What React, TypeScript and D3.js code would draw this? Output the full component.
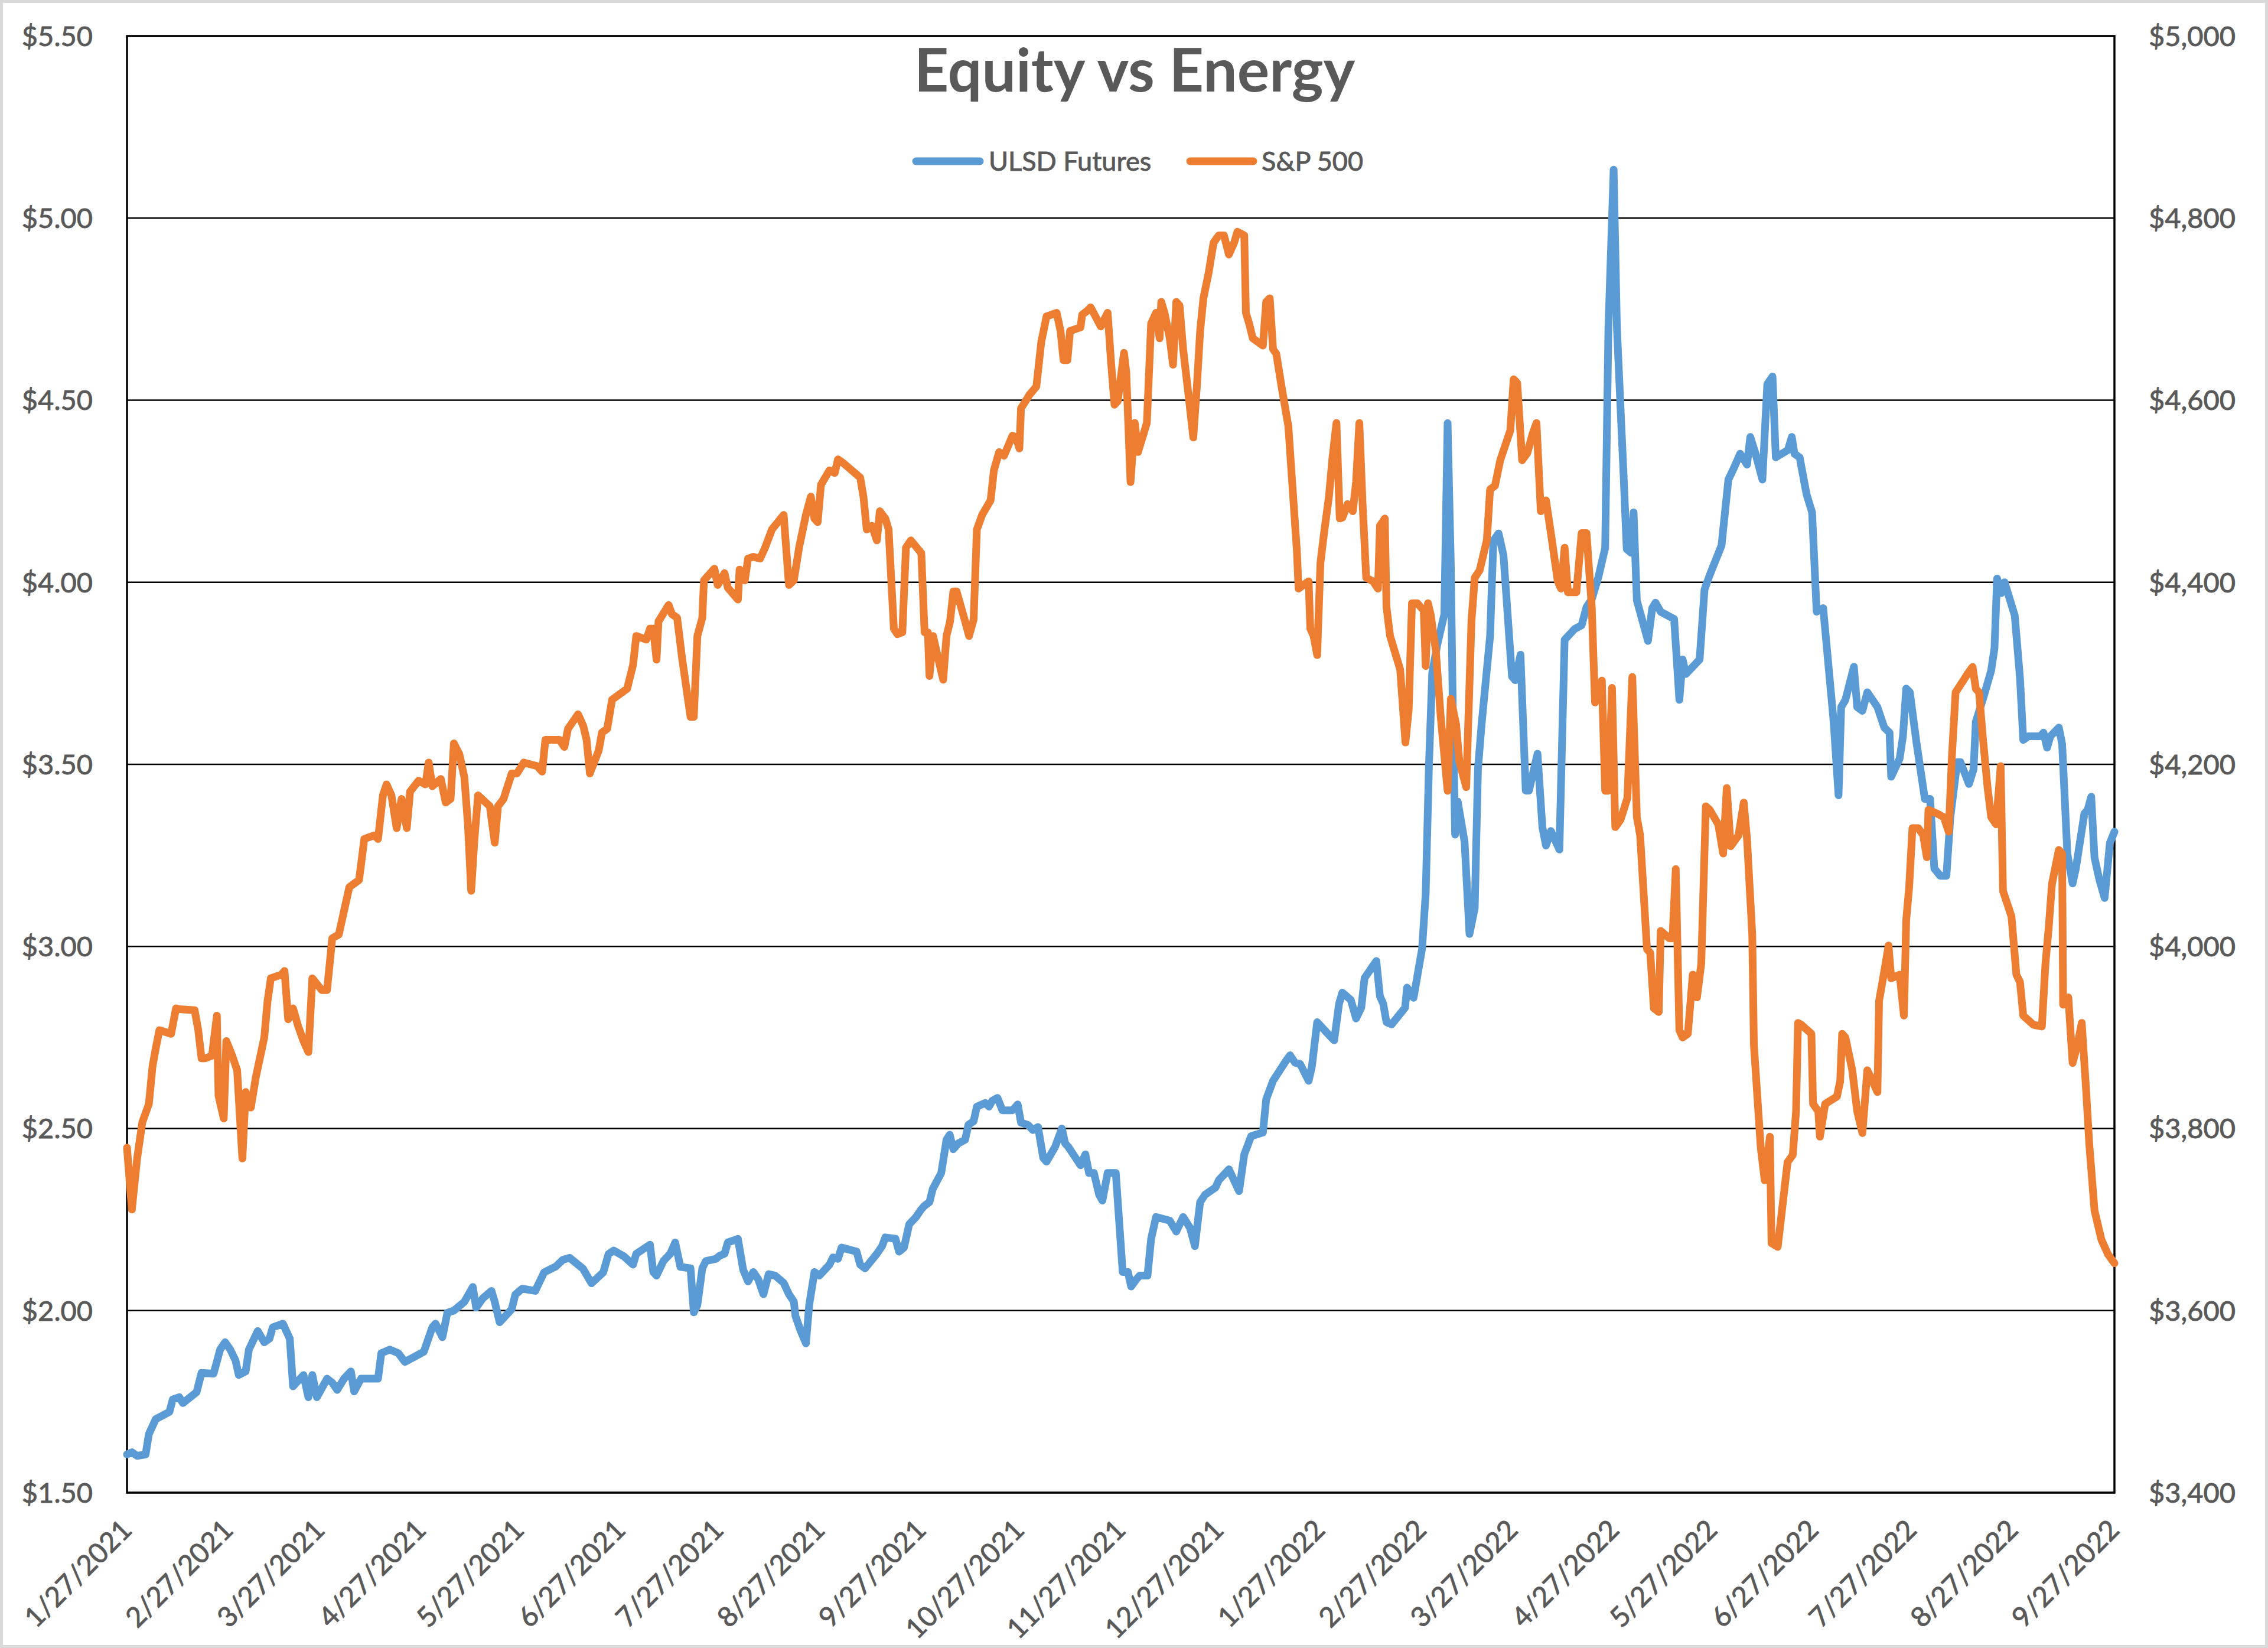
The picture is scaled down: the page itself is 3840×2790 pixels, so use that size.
import React from 'react';
import * as d3 from 'd3';

// ---------- DATA ----------
// x positions are days after 1/27/2021
const ulsdDays = [
  0, 1.5, 3.1, 5.7, 6.7, 8.8, 13, 14, 16, 17.1, 21.3, 22.8, 26.5, 28.5, 30, 31.6, 33.2, 34.2, 36.3, 37.3,
  40, 42, 43.6, 44.6, 47.7, 49.8, 50.8, 54, 55.5, 56.7, 58.1, 61.2, 62.8, 64.3, 66.4, 68.5, 69.5, 71.6, 76.8, 77.8,
  80.4, 83, 85, 90.8, 93.4, 94.4, 96.5, 98, 100, 103.2, 105.8, 106.8, 108.9, 111.5, 112.5, 114, 117.7, 118.8, 120.9, 124.9,
  127.6, 131.2, 133.3, 135.4, 139.5, 142.1, 145.7, 147.3, 148.9, 152, 154.8, 155.8, 160, 161, 162, 164.1, 166.2, 167.7, 169.3, 172.4,
  173.4, 174.5, 176, 177.1, 180.2, 181.2, 182.8, 183.8, 186.9, 188.5, 190, 191.6, 193.1, 194.7, 196.3, 198.3, 200.9, 202.5, 204, 204.5,
  206.1, 207.7, 208.7, 210.3, 211.8, 214.9, 216, 217.5, 218.6, 223.2, 224.3, 225.8, 229.4, 231, 232, 235.1, 236.2, 237.7, 239.3, 241.4,
  242.9, 244, 245.5, 246.5, 249.1, 250.7, 251.7, 252.8, 254.3, 256.4, 257.4, 259, 260, 262.6, 263.7, 264.7, 266.3, 267.8, 270.9, 272.5,
  273.5, 275.6, 277.1, 278.7, 280.3, 281.3, 283.9, 286, 287, 288, 291.7, 293.2, 294.3, 295.8, 297.4, 298.4, 300, 302.5, 304.6, 306.2,
  307.2, 308.8, 309.8, 312.2, 313.3, 314.8, 319, 321, 323.1, 325.2, 326.7, 328.3, 329.8, 333, 334, 337.1, 340.2, 341.8, 343.9, 347.5,
  348.5, 350.6, 354.2, 355.8, 357.3, 358.9, 361.5, 362.5, 364.1, 368.2, 369.3, 370.8, 371.8, 374.4, 376, 377.6, 378.6, 382.2, 383.3, 384.3,
  385.3, 386.9, 391, 391.6, 393.6, 396.2, 397.3, 398.3, 399.3, 400.9, 403, 404, 405, 405.6, 406.3, 407.1, 409.2, 410.7, 412.3, 413.3,
  414.4, 417, 418, 419.6, 421.1, 423.7, 424.7, 426.3, 427.9, 428.9, 431.5, 433, 434.1, 435.6, 438.2, 439.8, 442.9, 445, 446.5, 448.1,
  450.1, 452.2, 453.2, 454.8, 455.8, 457.8, 458.8, 460.1, 460.9, 461.9, 465.3, 466.6, 467.6, 469.2, 473.3, 474.9, 475.9, 476.9, 481.1, 482.6,
  484.2, 487.8, 489.9, 491.5, 493.5, 495.6, 496.6, 498.2, 500.3, 501.8, 503.4, 504.4, 508.1, 509.3, 510.1, 511.7, 513.8, 515.5, 516.9, 518.9,
  522.1, 523.6, 524.4, 525.7, 528.3, 529.3, 530.9, 532.4, 535.5, 537.6, 539.2, 539.7, 542.3, 543.3, 544.3, 545.4, 547.5, 550, 551.6, 552.9,
  554.7, 556.6, 557.8, 559.9, 560.9, 563.5, 564.9, 565.6, 567.7, 570.3, 571.3, 572.1, 573.4, 574.4, 577.5, 579.1, 580.1, 581.7, 585.3, 586.3,
  587.4, 588.4, 591, 592, 593.6, 595.2, 596.2, 598.8, 599.8, 600.9, 601.9, 603.4, 605, 606.6, 608,
];
const ulsdValues = [
  1.605, 1.611, 1.601, 1.605, 1.661, 1.702, 1.722, 1.756, 1.762, 1.746, 1.776, 1.829, 1.827, 1.893, 1.913, 1.893, 1.863, 1.823, 1.833, 1.893,
  1.944, 1.913, 1.923, 1.954, 1.964, 1.923, 1.792, 1.823, 1.762, 1.823, 1.762, 1.813, 1.802, 1.782, 1.813, 1.833, 1.778, 1.813, 1.813, 1.883,
  1.893, 1.883, 1.859, 1.887, 1.954, 1.964, 1.927, 1.994, 2.0, 2.024, 2.065, 2.008, 2.034, 2.054, 2.024, 1.968, 2.004, 2.044, 2.06, 2.054,
  2.105, 2.121, 2.139, 2.145, 2.115, 2.075, 2.105, 2.155, 2.165, 2.149, 2.126, 2.156, 2.181, 2.106, 2.096, 2.136, 2.156, 2.187, 2.12, 2.116,
  1.995, 2.015, 2.116, 2.136, 2.142, 2.15, 2.156, 2.187, 2.197, 2.112, 2.08, 2.106, 2.086, 2.045, 2.1, 2.096, 2.076, 2.045, 2.025, 1.985,
  1.944, 1.91, 2.015, 2.106, 2.096, 2.126, 2.146, 2.142, 2.173, 2.162, 2.126, 2.116, 2.156, 2.177, 2.201, 2.197, 2.162, 2.173, 2.237, 2.257,
  2.277, 2.288, 2.298, 2.334, 2.378, 2.469, 2.483, 2.443, 2.459, 2.469, 2.51, 2.52, 2.56, 2.57, 2.56, 2.576, 2.584, 2.55, 2.55, 2.566,
  2.516, 2.51, 2.496, 2.504, 2.419, 2.409, 2.449, 2.5, 2.459, 2.449, 2.399, 2.429, 2.378, 2.378, 2.318, 2.302, 2.378, 2.378, 2.106, 2.106,
  2.066, 2.086, 2.096, 2.096, 2.197, 2.257, 2.247, 2.217, 2.257, 2.227, 2.177, 2.298, 2.318, 2.338, 2.358, 2.388, 2.328, 2.429, 2.479, 2.489,
  2.58, 2.631, 2.681, 2.701, 2.681, 2.677, 2.631, 2.671, 2.792, 2.752, 2.742, 2.843, 2.873, 2.853, 2.802, 2.832, 2.913, 2.96, 2.863, 2.843,
  2.792, 2.786, 2.832, 2.887, 2.859, 2.994, 3.145, 3.498, 3.751, 3.831, 3.912, 4.437, 4.043, 3.65, 3.307, 3.398, 3.287, 3.034, 3.105, 3.488,
  3.61, 3.852, 4.114, 4.134, 4.074, 3.741, 3.731, 3.801, 3.428, 3.428, 3.529, 3.327, 3.277, 3.317, 3.266, 3.842, 3.872, 3.882, 3.932, 3.953,
  4.013, 4.094, 4.699, 5.133, 4.699, 4.302, 4.091, 4.081, 4.192, 3.95, 3.839, 3.929, 3.944, 3.919, 3.899, 3.677, 3.788, 3.748, 3.788, 3.98,
  4.02, 4.101, 4.282, 4.312, 4.353, 4.323, 4.399, 4.353, 4.282, 4.544, 4.565, 4.343, 4.363, 4.399, 4.353, 4.343, 4.242, 4.192, 3.919, 3.929,
  3.617, 3.415, 3.657, 3.677, 3.768, 3.657, 3.647, 3.698, 3.657, 3.601, 3.587, 3.466, 3.516, 3.577, 3.708, 3.698, 3.556, 3.405, 3.405, 3.214,
  3.194, 3.194, 3.355, 3.506, 3.506, 3.446, 3.486, 3.617, 3.677, 3.758, 3.819, 4.01, 3.97, 4.0, 3.909, 3.738, 3.567, 3.577, 3.577, 3.587,
  3.546, 3.577, 3.601, 3.556, 3.254, 3.173, 3.214, 3.365, 3.375, 3.411, 3.244, 3.183, 3.133, 3.284, 3.315,
];

const spxDays = [
  0, 1.5, 3.1, 4.7, 6.7, 7.8, 8.8, 9.9, 13.5, 15, 16, 20.7, 21.8, 22.8, 23.9, 26, 27.5, 28, 29.6, 30.4,
  32.2, 33.7, 35.3, 36.3, 37.9, 39.4, 42, 43, 44, 47.2, 48.2, 49.3, 50.8, 52.4, 54, 55.5, 56.7, 59.6, 61.2, 62.8,
  64.8, 68, 71, 72.6, 75.7, 76.8, 78.3, 79.4, 80.9, 82.5, 84, 85.6, 86.6, 89.2, 91.3, 92.3, 93.4, 96, 97.5, 99,
  100, 101.7, 103.2, 104.3, 105.3, 106.3, 107.4, 111, 112.5, 113.5, 115.2, 117.7, 119.3, 121.4, 125.5, 127, 128, 132.3, 133.8, 134.9,
  138, 139.6, 140.6, 141.6, 144.3, 145.3, 146.9, 148.4, 153, 154.8, 155.8, 158.9, 160, 161, 162, 162.6, 165.7, 166.7, 168.3, 169.8,
  172.4, 173.4, 174.5, 176, 176.5, 179.7, 180.7, 182.8, 183.8, 186.9, 187.4, 189, 190, 191.6, 193.7, 195.2, 197.3, 200.9, 202.5, 204,
  205.6, 207.7, 209.2, 210.3, 211.3, 212.3, 214.9, 216.5, 217.5, 219.1, 224.3, 225.3, 226.3, 227.9, 229.4, 230.3, 232, 233, 234.6, 235.7,
  237.2, 238.3, 239.8, 243, 244, 245, 245.5, 246.6, 248.1, 249.7, 250.7, 251.8, 252.8, 253.8, 256.4, 257.6, 259, 260, 261.6, 264.2,
  265.2, 266.8, 268.3, 270.9, 272, 273, 273.5, 276.1, 278.2, 279.7, 281.3, 284.4, 285.6, 286.5, 287.7, 288.5, 291.7, 292.2, 293.7, 294.8,
  297.9, 300, 301, 302.1, 303.1, 305, 305.7, 307, 308.3, 309.3, 312, 313.3, 314.8, 315.9, 316.4, 317.4, 319, 320, 321, 322,
  323.1, 324.7, 326.2, 327.3, 328.3, 329.3, 330.9, 332.4, 334, 335.6, 337.1, 338.7, 339.7, 341.8, 342.3, 343.3, 344.4, 347.5, 348.5, 349.6,
  350.6, 351.6, 353.2, 355.3, 356.3, 357.9, 358.4, 359.9, 361.5, 362, 363, 364.1, 365.1, 366.2, 367.7, 368.7, 370, 371, 371.8, 373.4,
  375, 376, 377, 378, 379.1, 381.2, 382.7, 383.3, 384.8, 385.3, 386.4, 389.5, 391.1, 392.1, 393.1, 394.7, 396.7, 397.3, 398, 398.8,
  400.4, 401.9, 404, 405, 406.6, 407.6, 409.7, 411.3, 412.3, 413.8, 416, 417, 418.5, 420.1, 421.6, 423.2, 424.2, 425.3, 426.8, 428.4,
  430, 431.2, 432.5, 434.1, 435.6, 437.7, 438.7, 439.8, 440.8, 443.4, 445, 446.5, 448.1, 449.1, 451.2, 452.2, 453.2, 454.3, 455.3, 456.9,
  459, 460.5, 461.9, 462.9, 465, 466, 467.1, 468.6, 469.2, 471.8, 472.8, 473.8, 474.9, 475.9, 477.5, 479, 480.3, 481.6, 483, 484.2,
  486.8, 488.3, 489.4, 490.6, 493, 494.6, 495.6, 497.2, 497.7, 499.8, 501, 502.6, 503.1, 505, 508, 509.6, 510.6, 511.2, 512.2, 515.3,
  515.8, 517.4, 517.9, 519.5, 523.1, 524.1, 524.7, 525.7, 527.8, 529.3, 530.9, 532.4, 533.5, 535.5, 536, 537.6, 538.9, 539.7, 542.3, 543.6,
  544.3, 545.2, 546.2, 548, 549.5, 550.6, 551.1, 553.7, 555.8, 557.3, 558.3, 559.4, 563, 564.6, 565.6, 566.6, 567.7, 569.2, 570.3, 571.8,
  573.2, 573.9, 576.5, 578, 579.1, 580.1, 583.2, 585.8, 586.9, 587.9, 588.9, 591, 592, 592.3, 593.9, 595.2, 596.7, 598, 599.3, 600.3,
  601.9, 604, 606, 608,
];
const spxValues = [
  3779, 3711, 3767, 3807, 3827, 3868, 3888, 3908, 3904, 3932, 3931, 3930, 3908, 3877, 3877, 3880, 3924, 3836, 3811, 3896,
  3880, 3864, 3767, 3840, 3823, 3856, 3900, 3940, 3965, 3969, 3973, 3920, 3932, 3912, 3896, 3884, 3965, 3952, 3952, 4009,
  4013, 4065, 4073, 4118, 4122, 4118, 4166, 4178, 4166, 4130, 4162, 4130, 4170, 4182, 4178, 4202, 4176, 4184, 4158, 4162,
  4223, 4211, 4186, 4134, 4061, 4118, 4166, 4154, 4114, 4154, 4162, 4190, 4190, 4202, 4198, 4192, 4227, 4227, 4219, 4239,
  4255, 4242, 4227, 4190, 4215, 4235, 4239, 4271, 4283, 4309, 4341, 4337, 4349, 4349, 4315, 4357, 4375, 4365, 4361, 4317,
  4252, 4252, 4341, 4361, 4402, 4415, 4397, 4410, 4394, 4381, 4414, 4402, 4426, 4428, 4426, 4438, 4458, 4474, 4397, 4402,
  4438, 4474, 4494, 4470, 4466, 4507, 4523, 4520, 4535, 4531, 4515, 4494, 4458, 4462, 4446, 4478, 4470, 4458, 4349, 4343,
  4345, 4438, 4446, 4432, 4345, 4345, 4297, 4341, 4317, 4293, 4341, 4357, 4390, 4390, 4357, 4341, 4359, 4458, 4474, 4490,
  4523, 4543, 4539, 4561, 4559, 4547, 4591, 4606, 4615, 4664, 4692, 4696, 4676, 4644, 4644, 4676, 4680, 4694, 4698, 4702,
  4681, 4696, 4644, 4595, 4599, 4652, 4631, 4510, 4575, 4543, 4575, 4684, 4696, 4668, 4708, 4696, 4668, 4639, 4708, 4704,
  4656, 4607, 4559, 4615, 4676, 4712, 4740, 4773, 4781, 4781, 4760, 4773, 4785, 4781, 4696, 4684, 4668, 4660, 4708, 4712,
  4656, 4651, 4615, 4571, 4518, 4434, 4393, 4397, 4401, 4349, 4341, 4320, 4421, 4454, 4494, 4534, 4575, 4470, 4471, 4486,
  4478, 4510, 4575, 4486, 4405, 4401, 4393, 4462, 4470, 4373, 4341, 4304, 4224, 4260, 4377, 4377, 4369, 4308, 4377, 4365,
  4325, 4252, 4171, 4272, 4244, 4203, 4175, 4357, 4405, 4413, 4446, 4502, 4506, 4534, 4550, 4567, 4623, 4619, 4534, 4542,
  4563, 4575, 4478, 4490, 4454, 4401, 4393, 4438, 4389, 4389, 4454, 4454, 4373, 4268, 4292, 4171, 4171, 4284, 4131, 4139,
  4163, 4296, 4142, 4122, 3997, 3993, 3932, 3928, 4017, 4009, 4009, 4085, 3908, 3900, 3904, 3969, 3944, 3981, 4154, 4150,
  4134, 4102, 4174, 4110, 4122, 4158, 4118, 4013, 3892, 3779, 3743, 3791, 3674, 3670, 3763, 3771, 3819, 3916, 3914, 3904,
  3827, 3819, 3791, 3827, 3835, 3852, 3904, 3900, 3864, 3819, 3795, 3864, 3856, 3840, 3940, 3973, 4001, 3965, 3969, 3924,
  4029, 4065, 4130, 4130, 4122, 4098, 4150, 4146, 4142, 4126, 4210, 4279, 4299, 4307, 4283, 4279, 4231, 4174, 4142, 4134,
  4198, 4061, 4033, 3969, 3961, 3924, 3914, 3912, 3981, 4021, 4069, 4106, 4102, 3936, 3944, 3872, 3892, 3916, 3844, 3783,
  3710, 3678, 3662, 3652,
];

const xTickLabels = [
  '1/27/2021', '2/27/2021', '3/27/2021', '4/27/2021', '5/27/2021', '6/27/2021', '7/27/2021', '8/27/2021',
  '9/27/2021', '10/27/2021', '11/27/2021', '12/27/2021', '1/27/2022', '2/27/2022', '3/27/2022', '4/27/2022',
  '5/27/2022', '6/27/2022', '7/27/2022', '8/27/2022', '9/27/2022',
];
const leftTicks = [1.5, 2.0, 2.5, 3.0, 3.5, 4.0, 4.5, 5.0, 5.5];
const rightTicks = [3400, 3600, 3800, 4000, 4200, 4400, 4600, 4800, 5000];
const seriesNames = ['ULSD Futures', 'S&P 500'];
const titleText = 'Equity vs Energy';

// ---------- LAYOUT ----------
const W = 3840;
const H = 2790;
const PL = 215, PR = 3580, PT = 61, PB = 2527;
const BLUE = '#5B9BD5';
const ORANGE = '#ED7D31';
const TEXT = '#595959';
const FONT = 'Lato, "Open Sans", sans-serif';

const START = Date.UTC(2021, 0, 27);
const dayToDate = (d: number) => new Date(START + d * 86400000);
const parseLabel = (s: string) => {
  const [m, d, y] = s.split('/').map(Number);
  return new Date(Date.UTC(y, m - 1, d));
};

export default function App() {
  const x = d3.scaleUtc().domain([parseLabel(xTickLabels[0]), parseLabel(xTickLabels[xTickLabels.length - 1])]).range([PL, PR]);
  const yL = d3.scaleLinear().domain([1.5, 5.5]).range([PB, PT]);
  const yR = d3.scaleLinear().domain([3400, 5000]).range([PB, PT]);
  const fmtL = d3.format('$.2f');
  const fmtR = d3.format('$,.0f');

  const ulsd = ulsdDays.map((d, i) => [d, ulsdValues[i]] as [number, number]);
  const spx = spxDays.map((d, i) => [d, spxValues[i]] as [number, number]);

  const lineL = d3.line<[number, number]>().x(p => x(dayToDate(p[0]))).y(p => yL(p[1]));
  const lineR = d3.line<[number, number]>().x(p => x(dayToDate(p[0]))).y(p => yR(p[1]));

  const labelStyle = { stroke: TEXT, strokeWidth: 0.9 } as React.CSSProperties;

  return (
    <svg width={W} height={H} style={{ position: 'absolute', left: 0, top: 0, background: '#fff' }} fontFamily={FONT}>
      <rect x={0} y={0} width={W} height={H} fill="#fff" />
      <rect x={2.5} y={2.5} width={W - 5} height={H - 5} fill="none" stroke="#d9d9d9" strokeWidth={5} />

      {/* gridlines */}
      {leftTicks.map(t => (
        <line key={'g' + t} x1={PL} x2={PR} y1={yL(t)} y2={yL(t)} stroke="#000" strokeWidth={2.5} />
      ))}
      <rect x={PL} y={PT} width={PR - PL} height={PB - PT} fill="none" stroke="#000" strokeWidth={3.5} />

      {/* left axis labels */}
      {leftTicks.map(t => (
        <text key={'l' + t} x={157} y={yL(t)} dy="0.36em" textAnchor="end" fontSize={47} fill={TEXT} style={labelStyle}>
          {fmtL(t)}
        </text>
      ))}
      {/* right axis labels */}
      {rightTicks.map(t => (
        <text key={'r' + t} x={3638} y={yR(t)} dy="0.36em" textAnchor="start" fontSize={47} fill={TEXT} style={labelStyle}>
          {fmtR(t)}
        </text>
      ))}
      {/* x axis labels */}
      {xTickLabels.map(s => {
        const px = x(parseLabel(s));
        return (
          <text key={s} transform={`translate(${px + 11},${PB + 66}) rotate(-45)`} textAnchor="end" fontSize={47} fill={TEXT} style={labelStyle}>
            {s}
          </text>
        );
      })}

      {/* series */}
      <path d={lineL(ulsd) || ''} fill="none" stroke={BLUE} strokeWidth={13} strokeLinejoin="round" strokeLinecap="round" />
      <path d={lineR(spx) || ''} fill="none" stroke={ORANGE} strokeWidth={13} strokeLinejoin="round" strokeLinecap="round" />

      {/* title */}
      <text x={1921} y={155} textAnchor="middle" fontSize={102} fontWeight={700} fill={TEXT}>
        {titleText}
      </text>

      {/* legend */}
      <line x1={1551} x2={1659} y1={273} y2={273} stroke={BLUE} strokeWidth={13} strokeLinecap="round" />
      <text x={1674} y={273} dy="0.36em" fontSize={45} fill={TEXT} style={labelStyle}>{seriesNames[0]}</text>
      <line x1={2015} x2={2122} y1={273} y2={273} stroke={ORANGE} strokeWidth={13} strokeLinecap="round" />
      <text x={2136} y={273} dy="0.36em" fontSize={45} fill={TEXT} style={labelStyle}>{seriesNames[1]}</text>
    </svg>
  );
}
